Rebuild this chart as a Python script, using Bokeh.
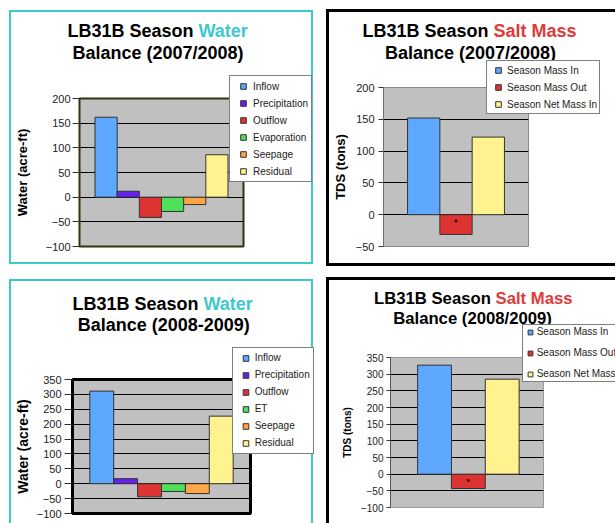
import numpy as np
from bokeh.plotting import figure
from bokeh.models import (Range1d, FixedTicker, Label, Legend, LegendItem,
                          ColumnDataSource)
from bokeh.layouts import row, column
from bokeh.embed import file_html
from bokeh.resources import INLINE

FONT = "Liberation Sans"

# ---------------- data ----------------
water1_series = ["Inflow", "Precipitation", "Outflow", "Evaporation", "Seepage", "Residual"]
water1_values = [162, 12, -41, -29, -15, 86]
water1_ticks = [-100, -50, 0, 50, 100, 150, 200]

water2_series = ["Inflow", "Precipitation", "Outflow", "ET", "Seepage", "Residual"]
water2_values = [311, 17, -44, -26, -33, 227]
water2_ticks = [-100, -50, 0, 50, 100, 150, 200, 250, 300, 350]

salt_series = ["Season Mass In", "Season Mass Out", "Season Net Mass In"]
salt1_values = [152, -31, 122]
salt1_marker = -10
salt1_ticks = [-50, 0, 50, 100, 150, 200]

salt2_values = [327, -43, 285]
salt2_marker = -19
salt2_ticks = [-100, -50, 0, 50, 100, 150, 200, 250, 300, 350]

water_colors = ["#5ea9ff", "#6a1ff2", "#dd3333", "#4fe05a", "#ffa647", "#fff38f"]
salt_colors = ["#5ea9ff", "#dd3333", "#fff38f"]

TEAL = "#3cc9c9"
TITLE_TEAL = "#40c8d0"
TITLE_RED = "#e03a3a"

PAGE_W, PAGE_H = 615, 523

# Arial/Liberation Sans Bold advance widths (per 1000 em) for title layout
BOLD_W = {"L": 611, "B": 722, "3": 556, "1": 556, " ": 278, "S": 667, "e": 556,
          "a": 556, "s": 556, "o": 611, "n": 611, "W": 944, "t": 333, "r": 389,
          "M": 833, "l": 278}


def tw(s, size):
    return sum(BOLD_W[c] for c in s) * size / 1000.0


def make_chart(series, values, colors, ticks, ylabel, *, width, height, borders,
               pad_l, pad_r, styles, margin, outline_color, outline_width,
               axis_line, tick_out, standoff, tick_size, ylabel_size, ylabel_standoff,
               marker=None):
    n = len(series)
    idx = list(range(n))
    p = figure(width=width, height=height, output_backend="svg", toolbar_location=None,
               x_range=Range1d(-0.5 - pad_l, n - 0.5 + pad_r),
               y_range=Range1d(ticks[0], ticks[-1]),
               x_axis_location=None, frame_align=False,
               min_border_left=borders[0], min_border_right=borders[1],
               min_border_top=borders[2], min_border_bottom=borders[3],
               background_fill_color="#c0c0c0", border_fill_color="white",
               outline_line_color=outline_color, outline_line_width=outline_width,
               styles=styles, margin=margin)
    for g in p.xgrid:
        g.visible = False
    p.ygrid.ticker = FixedTicker(ticks=ticks[1:-1])
    p.ygrid.grid_line_color = "black"
    p.ygrid.grid_line_width = 1

    ax = p.yaxis[0]
    ax.ticker = FixedTicker(ticks=ticks)
    ax.minor_tick_line_color = None
    ax.major_tick_in = 0
    ax.major_tick_out = tick_out
    ax.major_tick_line_color = "#333333"
    ax.axis_line_color = axis_line
    ax.major_label_standoff = standoff
    ax.major_label_text_font = FONT
    ax.major_label_text_font_size = tick_size
    ax.major_label_text_color = "#222222"
    ax.axis_label = ylabel
    ax.axis_label_text_font = FONT
    ax.axis_label_text_font_style = "bold"
    ax.axis_label_text_font_size = ylabel_size
    ax.axis_label_text_color = "black"
    ax.axis_label_standoff = ylabel_standoff

    src = ColumnDataSource(dict(x=idx, top=values, c=colors))
    p.vbar(x="x", top="top", bottom=0, width=1, source=src, fill_color="c",
           line_color="#333333", line_width=1)

    if marker is not None:
        mi = salt_series.index("Season Mass Out")
        p.scatter([mi], [marker], marker="square", size=2, color="#5a1010")
    return p


# sizes are CSS border-box sizes; the canvas starts inside the border
f1 = make_chart(water1_series, water1_values, water_colors, water1_ticks, "Water (acre-ft)",
                width=304, height=254, borders=(65, 72, 86, 20), pad_l=0.70, pad_r=0.70,
                styles={"border": f"2px solid {TEAL}"}, margin=(10, 0, 0, 9),
                outline_color="#33330f", outline_width=2, axis_line=None,
                tick_out=7, standoff=2, tick_size="11px", ylabel_size="13px",
                ylabel_standoff=13)

f2 = make_chart(salt_series, salt1_values, salt_colors, salt1_ticks, "TDS (tons)",
                width=289, height=257, borders=(52, 90, 75, 23), pad_l=0.745, pad_r=0.745,
                styles={"border-left": "3px solid black", "border-top": "3px solid black",
                        "border-bottom": "3px solid black"},
                margin=(9, 0, 0, 13),
                outline_color="#8a8a8a", outline_width=1, axis_line="#707070",
                tick_out=5, standoff=4, tick_size="11px", ylabel_size="13px",
                ylabel_standoff=5, marker=salt1_marker)

f3 = make_chart(water2_series, water2_values, water_colors, water2_ticks, "Water (acre-ft)",
                width=304, height=244, borders=(57, 65, 98, 12), pad_l=0.725, pad_r=0.725,
                styles={"border-left": f"2px solid {TEAL}", "border-top": f"2px solid {TEAL}",
                        "border-right": f"2px solid {TEAL}"},
                margin=(13, 0, 0, 9),
                outline_color="black", outline_width=3, axis_line=None,
                tick_out=8, standoff=3, tick_size="11px", ylabel_size="14px",
                ylabel_standoff=3)

f4 = make_chart(salt_series, salt2_values, salt_colors, salt2_ticks, "TDS (tons)",
                width=289, height=246, borders=(61, 75, 77, 19), pad_l=0.80, pad_r=0.72,
                styles={"border-left": "3px solid black", "border-top": "3px solid black"},
                margin=(11, 0, 0, 13),
                outline_color="#9a9a9a", outline_width=1, axis_line="#555555",
                tick_out=4, standoff=3, tick_size="10px", ylabel_size="10px",
                ylabel_standoff=5, marker=salt2_marker)

# ---------- overlay for titles and legends (page pixel coordinates) ----------
ov = figure(width=PAGE_W, height=PAGE_H, output_backend="svg", toolbar_location=None,
            x_range=Range1d(0, PAGE_W), y_range=Range1d(PAGE_H, 0),
            x_axis_location=None, y_axis_location=None, min_border=0, frame_align=False,
            background_fill_alpha=0, border_fill_alpha=0, outline_line_color=None,
            margin=(-PAGE_H, 0, 0, 0))
for g in ov.grid:
    g.visible = False


def add_title(head, colored, color, line2, cx, y1, cx2, y2, size):
    common = dict(text_font=FONT, text_font_size=f"{size}px", text_font_style="bold",
                  text_baseline="middle")
    x0 = cx - tw(head + " " + colored, size) / 2
    ov.add_layout(Label(x=x0, y=y1, text=head, text_color="black", text_align="left", **common))
    ov.add_layout(Label(x=x0 + tw(head + " ", size), y=y1, text=colored,
                        text_color=color, text_align="left", **common))
    ov.add_layout(Label(x=cx2, y=y2, text=line2, text_color="black", text_align="center",
                        **common))


add_title("LB31B Season", "Water", TITLE_TEAL, "Balance (2007/2008)", 157.5, 30.8, 157.5, 52, 18)
add_title("LB31B Season", "Salt Mass", TITLE_RED, "Balance (2007/2008)", 469, 30.5, 470, 52, 18)
add_title("LB31B Season", "Water", TITLE_TEAL, "Balance (2008-2009)", 162.5, 303.8, 163.3, 324.7, 18)
add_title("LB31B Season", "Salt Mass", TITLE_RED, "Balance (2008/2009)", 472.8, 297.5, 472, 317.8, 16.7)


def add_legend(series, colors, left, top, pad, sp, gw, gh, ls, lw):
    n = len(series)
    lsrc = ColumnDataSource(dict(x=np.full(n, np.nan), y=np.full(n, np.nan), c=colors))
    lr = ov.scatter("x", "y", source=lsrc, marker="square", fill_color="c",
                    line_color="#333333", line_width=1, size=6)
    items = [LegendItem(label=s, renderers=[lr], index=i) for i, s in enumerate(series)]
    height = 2 * pad + n * gh + (n - 1) * sp
    leg = Legend(items=items, location=(left, PAGE_H - (top + height)), padding=pad,
                 spacing=sp, glyph_width=gw, glyph_height=gh, label_standoff=ls,
                 label_width=lw, label_height=gh, margin=0,
                 label_text_font=FONT, label_text_font_size="10px",
                 label_text_color="#222222", label_text_baseline="middle",
                 border_line_color="black", border_line_width=1,
                 background_fill_color="white", background_fill_alpha=1.0)
    ov.add_layout(leg)


add_legend(water1_series, water_colors, 229, 77.3, 3, 3, 20, 14, 0, 54)
add_legend(salt_series, salt_colors, 486, 62, 2, 3, 18, 14, 0, 89)
add_legend(water2_series, water_colors, 231.7, 348.5, 3, 3, 19, 14, 0, 54)
add_legend(salt_series, salt_colors, 521.7, 325.7, 1, 9, 12, 12, 1, 90)

layout = column(row(f1, f2), row(f3, f4), ov)

open("out.html", "w").write(file_html(layout, INLINE))
